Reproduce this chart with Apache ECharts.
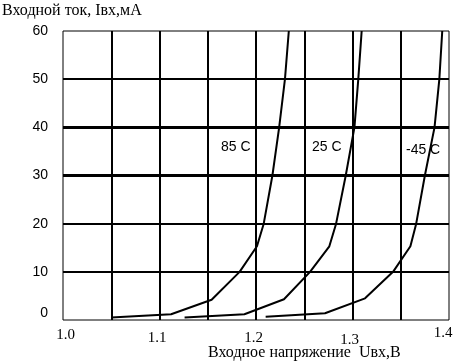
<!DOCTYPE html>
<html><head><meta charset="utf-8">
<script src="https://cdn.jsdelivr.net/npm/echarts@6/dist/echarts.min.js"></script>
<style>html,body{margin:0;padding:0;background:#fff}#c{width:465px;height:363px}</style>
</head><body><div id="c"></div>
<script>
// Data
const curve85 = [[1.050,0.5],[1.112,1.2],[1.154,4.2],[1.183,10],[1.201,15.3],[1.208,20],[1.217,30],[1.224,40],[1.230,50],[1.234,60]];
const curve25 = [[1.126,0.5],[1.188,1.2],[1.229,4.3],[1.256,10],[1.276,15.3],[1.283,20],[1.293,30],[1.302,40],[1.306,50],[1.3095,60]];
const curveM45 = [[1.210,0.7],[1.2715,1.4],[1.313,4.5],[1.342,10],[1.360,15.3],[1.366,20],[1.375,30],[1.385,40],[1.390,50],[1.393,60]];
const seriesNames = ['85 C','25 C','-45 C'];
const thickY = [30, 40];
const yTitle = 'Входной ток, Iвх,мА';
const xTitle = 'Входное напряжение  Uвх,В';

const xLabelStyle = {
  '1.0': 'a', '1.1': 'b', '1.2': 'b', '1.3': 'c', '1.4': 'd'
};
const serif = '"Liberation Serif","Times New Roman",serif';
const sans = '"Liberation Sans",Arial,sans-serif';

const chart = echarts.init(document.getElementById('c'), null, {renderer:'canvas'});
const lineSeries = (name, data) => ({
  name, type:'line', data, symbol:'none', smooth:false,
  lineStyle:{color:'#000', width:2}, silent:true, z:5
});
chart.setOption({
  animation:false,
  grid:{left:63, top:31, width:386, height:289, show:true, borderColor:'#000', borderWidth:1, backgroundColor:'#fff'},
  xAxis:{
    type:'value', min:1.0, max:1.4, interval:0.05,
    axisLine:{show:false}, axisTick:{show:false},
    splitLine:{show:true, showMinLine:false, showMaxLine:false, lineStyle:{color:'#000', width:2}},
    axisLabel:{
      margin:6, fontFamily:serif, fontSize:15, color:'#000',
      formatter: v => {
        const k = Math.round(v*100);
        if (k % 10 !== 0) return '';
        const s = (k/100).toFixed(1);
        return '{' + xLabelStyle[s] + '|' + s + '}';
      },
      rich:{
        a:{fontFamily:serif, fontSize:15, color:'#000', padding:[2,0,0,5]},
        b:{fontFamily:serif, fontSize:15, color:'#000', padding:[5,5,0,0]},
        c:{fontFamily:serif, fontSize:15, color:'#000', padding:[7,6,0,0]},
        d:{fontFamily:serif, fontSize:15, color:'#000', padding:[0,12,0,0]}
      }
    }
  },
  yAxis:{
    type:'value', min:0, max:60, interval:10,
    axisLine:{show:false}, axisTick:{show:false},
    splitLine:{show:true, showMinLine:false, showMaxLine:false, lineStyle:{color:'#000', width:2}},
    axisLabel:{
      margin:15, fontFamily:sans, fontSize:14, color:'#000',
      formatter: v => v === 0 ? '{z|0}' : String(v),
      rich:{z:{fontFamily:sans, fontSize:14, color:'#000', padding:[0,0,14,0]}}
    }
  },
  series:[
    lineSeries(seriesNames[0], curve85),
    lineSeries(seriesNames[1], curve25),
    lineSeries(seriesNames[2], curveM45),
    {
      type:'line', data:[], silent:true,
      markLine:{silent:true, symbol:'none', label:{show:false},
        lineStyle:{color:'#000', width:3, type:'solid'},
        data: thickY.map(v => ({yAxis:v}))}
    }
  ],
  graphic:[
    {type:'text', left:2, top:3, style:{text:yTitle, font:'16px '+serif, fill:'#000'}},
    {type:'text', left:208, top:345, style:{text:xTitle, font:'16px '+serif, fill:'#000'}},
    {type:'text', left:221, top:140, z:10, style:{text:seriesNames[0], font:'14px '+sans, fill:'#000'}},
    {type:'text', left:312, top:140, z:10, style:{text:seriesNames[1], font:'14px '+sans, fill:'#000'}},
    {type:'text', left:406, top:143, z:10, style:{text:seriesNames[2], font:'14px '+sans, fill:'#000'}}
  ]
});
</script></body></html>
